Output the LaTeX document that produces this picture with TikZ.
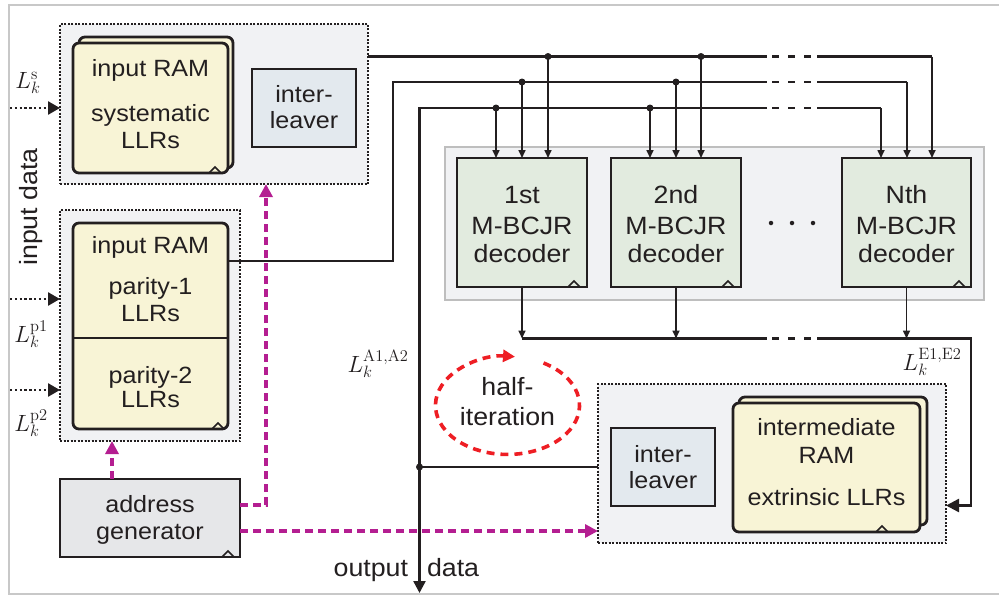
\RequirePackage{fix-cm}
\documentclass[tikz,border=0pt]{standalone}
\usepackage[no-math]{fontspec}
\setmainfont{Liberation Sans}[FakeStretch=1.07]
\usetikzlibrary{arrows.meta,calc}
\definecolor{ink}{RGB}{35,31,32}
\definecolor{grpfill}{RGB}{241,242,244}
\definecolor{ramfill}{RGB}{248,244,214}
\definecolor{ilvfill}{RGB}{227,233,238}
\definecolor{decfill}{RGB}{226,235,223}
\definecolor{agfill}{RGB}{230,231,233}
\definecolor{panelfill}{RGB}{241,242,244}
\definecolor{panelline}{RGB}{190,190,190}
\definecolor{magc}{RGB}{180,30,145}
\definecolor{redc}{RGB}{238,30,36}
\definecolor{framec}{RGB}{200,200,200}
\newcommand\notchmark[1]{\draw[notch] ($(#1)+(-6,0)$) -- ++(6,-6) -- ++(6,6);}
\tikzset{
  every node/.style={inner sep=0pt, outer sep=0pt},
  grp/.style={draw=ink, line width=1.2pt, dash pattern=on 2pt off 1.5pt, fill=grpfill},
  boxbase/.style={draw=ink, line width=2.8pt},
  ramcard/.style={boxbase, fill=ramfill, rounded corners=6pt},
  ilv/.style={boxbase, fill=ilvfill},
  decbox/.style={boxbase, fill=decfill},
  agbox/.style={boxbase, fill=agfill},
  panelbox/.style={draw=panelline, line width=2pt, fill=panelfill},
  btxt/.style={font=\fontsize{23.5}{28}\selectfont, text=ink, anchor=base},
  dtxt/.style={font=\fontsize{25}{30}\selectfont, text=ink, anchor=base},
  ftxt/.style={font=\fontsize{25}{30}\selectfont, text=ink},
  mlbl/.style={font=\fontsize{23.5}{28}\selectfont, text=ink},
  bus/.style={draw=ink, line width=2.4pt},
  busdash/.style={draw=ink, line width=2.4pt, dash pattern=on 7pt off 9pt},
  drop/.style={draw=ink, line width=1.6pt, -{Triangle[length=8pt,width=7pt]}},
  jdot/.style={circle, fill=ink, minimum size=7pt},
  edot/.style={circle, fill=ink, minimum size=4.5pt},
  inarr/.style={draw=ink, line width=2.6pt, dash pattern=on 2.4pt off 2.4pt, -{Triangle[length=12pt,width=13pt]}},
  mag/.style={draw=magc, line width=3.2pt, dash pattern=on 8pt off 5pt, -{Triangle[length=13pt,width=13pt]}},
  notch/.style={draw=ink, line width=1.5pt},
}
\begin{document}
\begin{tikzpicture}[x=1pt, y=-1pt]
\useasboundingbox (0,0) rectangle (999,595);
% page frame
\draw[framec, line width=1.5pt] (9,5) rectangle (1010,594);

% groups and panel
\node[grp, minimum width=308pt, minimum height=160pt] (G1) at (214,104) {};
\node[grp, minimum width=180pt, minimum height=231pt] (G2) at (150,325.5) {};
\node[grp, minimum width=348pt, minimum height=159pt] (G3) at (772,463.5) {};
\node[panelbox, minimum width=539pt, minimum height=153pt] (panel) at (714.5,223.5) {};

% systematic RAM (stacked)
\node[ramcard, minimum width=154pt, minimum height=131pt] (sysb) at (156,102.5) {};
\node[ramcard, minimum width=155pt, minimum height=130pt] (sysf) at (150.5,108) {};
\notchmark{215,173}
\node[btxt] (t1) at (150.5,76) {input RAM};
\node[btxt] (t2) at (150.5,121) {systematic};
\node[btxt] (t3) at (150.5,148) {LLRs};

% interleaver 1
\node[ilv, minimum width=104pt, minimum height=78pt] (ilv1) at (304,108) {};
\node[btxt] (t4) at (304,102) {inter-};
\node[btxt] (t5) at (304,128) {leaver};

% parity RAM
\node[ramcard, minimum width=155pt, minimum height=206pt] (par) at (150.5,326) {};
\draw[draw=ink, line width=2pt] ([yshift=-12pt]par.west) -- ([yshift=-12pt]par.east);
\notchmark{218,429}
\node[btxt] (t6) at (150.5,253) {input RAM};
\node[btxt] (t7) at (150.5,294) {parity-1};
\node[btxt] (t8) at (150.5,321) {LLRs};
\node[btxt] (t9) at (150.5,383) {parity-2};
\node[btxt] (t10) at (150.5,407) {LLRs};

% address generator
\node[agbox, minimum width=180pt, minimum height=78pt] (ag) at (150,518) {};
\notchmark{228,557}
\node[btxt] (t11) at (150,512) {address};
\node[btxt] (t12) at (150,539) {generator};

% decoders
\node[decbox, minimum width=130pt, minimum height=129pt] (d1) at (522,222.5) {};
\node[decbox, minimum width=130pt, minimum height=129pt] (d2) at (676,222.5) {};
\node[decbox, minimum width=129pt, minimum height=129pt] (dN) at (906.5,222.5) {};
\notchmark{574,287}
\notchmark{728,287}
\notchmark{959,287}
\node[dtxt] (t13) at (522,203) {1st};
\node[dtxt] (t14) at (522,234) {M-BCJR};
\node[dtxt] (t15) at (522,262) {decoder};
\node[dtxt] (t16) at (676,203) {2nd};
\node[dtxt] (t17) at (676,234) {M-BCJR};
\node[dtxt] (t18) at (676,262) {decoder};
\node[dtxt] (t19) at (906.5,203) {Nth};
\node[dtxt] (t20) at (906.5,234) {M-BCJR};
\node[dtxt] (t21) at (906.5,262) {decoder};
\node[edot] (e1) at (771,223) {};
\node[edot] (e2) at (792,223) {};
\node[edot] (e3) at (813,223) {};

% interleaver 2 and intermediate RAM
\node[ilv, minimum width=104pt, minimum height=78pt] (ilv2) at (663,467) {};
\node[btxt] (t22) at (663,462) {inter-};
\node[btxt] (t23) at (663,488) {leaver};
\node[ramcard, minimum width=188pt, minimum height=128pt] (imb) at (833,461) {};
\node[ramcard, minimum width=187pt, minimum height=129pt] (imf) at (826.5,467.5) {};
\notchmark{882,532}
\node[btxt] (t24) at (826.5,435) {intermediate};
\node[btxt] (t25) at (826.5,463) {RAM};
\node[btxt] (t26) at (826.5,505) {extrinsic LLRs};

% free labels
\node[ftxt, rotate=90] (indata) at (31,207) {input data};
\node[ftxt, anchor=base east] (outA) at (408,576) {output};
\node[ftxt, anchor=base west] (outB) at (427,576) {data};
\node[ftxt, anchor=base] (h1) at (507.5,395) {half-};
\node[ftxt, anchor=base] (h2) at (507.5,425) {iteration};
\node[mlbl] (Ls) at (28,83) {$L_k^{\mathrm{s}}$};
\node[mlbl] (Lp1) at (31,334) {$L_k^{\mathrm{p1}}$};
\node[mlbl] (Lp2) at (31,423) {$L_k^{\mathrm{p2}}$};
\node[mlbl] (LA) at (378,364) {$L_k^{\mathrm{A1,A2}}$};
\node[mlbl] (LE) at (932,362) {$L_k^{\mathrm{E1,E2}}$};

% half-iteration loop
\draw[redc, line width=3.6pt, dash pattern=on 8pt off 6pt, -{Triangle[length=12pt,width=12pt]}]
  (543.5,363) arc[start angle=60, end angle=-276, x radius=72pt, y radius=49pt];

% input arrows
\coordinate (in1) at (10,108);
\coordinate (in2) at (10,299);
\coordinate (in3) at (10,390);
\draw[inarr] (in1) -- (in1 -| G1.west);
\draw[inarr] (in2) -- (in2 -| G2.west);
\draw[inarr] (in3) -- (in3 -| G2.west);

% address generator control (magenta)
\coordinate (m0) at (112,0);
\coordinate (m1) at (266,505);
\coordinate (m2) at (300,531);
\draw[mag] (m0 |- ag.north) -- (m0 |- G2.south);
\draw[mag] (ag.east |- m1) -- (m1) -- (m1 |- G1.south);
\draw[mag] (ag.east |- m2) -- (m2 -| G3.west);

% bus 1 (systematic)
\coordinate (b1a) at (767,56.5);
\coordinate (b1b) at (817,56.5);
\coordinate (b1c) at (932,56.5);
\draw[bus] (G1.east |- b1a) -- (b1a);
\draw[busdash] (772,56.5) -- (811,56.5);
\draw[bus] (b1b) -- (b1c);
\draw[drop] (b1c) -- (b1c |- dN.north);
% bus 2 (parity)
\coordinate (p1) at (393,261);
\coordinate (c2) at (393,82);
\coordinate (b2a) at (767,82);
\coordinate (b2b) at (817,82);
\coordinate (b2c) at (907,82);
\draw[bus] (par.east |- p1) -- (p1) -- (c2) -- (b2a);
\draw[busdash] (772,82) -- (811,82);
\draw[bus] (b2b) -- (b2c);
\draw[drop] (b2c) -- (b2c |- dN.north);
% bus 3 (a-priori) and output
\coordinate (c3) at (419.5,108);
\coordinate (outp) at (419.5,593);
\coordinate (b3a) at (767,108);
\coordinate (b3b) at (817,108);
\coordinate (b3c) at (881,108);
\draw[bus, -{Triangle[length=12pt,width=12pt]}] (b3a) -- (c3) -- (outp);
\draw[busdash] (772,108) -- (811,108);
\draw[bus] (b3b) -- (b3c);
\draw[drop] (b3c) -- (b3c |- dN.north);

% junctions and drops
\node[jdot] (j11) at (548,56.5) {};
\node[jdot] (j12) at (701,56.5) {};
\node[jdot] (j21) at (522,82) {};
\node[jdot] (j22) at (676,82) {};
\node[jdot] (j31) at (496,108) {};
\node[jdot] (j32) at (650,108) {};
\draw[drop] (j11.center) -- (j11 |- d1.north);
\draw[drop] (j21.center) -- (j21 |- d1.north);
\draw[drop] (j31.center) -- (j31 |- d1.north);
\draw[drop] (j12.center) -- (j12 |- d2.north);
\draw[drop] (j22.center) -- (j22 |- d2.north);
\draw[drop] (j32.center) -- (j32 |- d2.north);

% interleaver output to bus 3
\node[jdot] (j5) at (419.5,467) {};
\draw[bus] (j5.center) -- (j5 -| G3.west);

% extrinsic collection
\coordinate (cA) at (767,338.5);
\coordinate (cB) at (817,338.5);
\coordinate (cC) at (971,338.5);
\coordinate (cD) at (971,505.5);
\draw[drop] (d1.south) -- (d1.south |- cA);
\draw[drop] (d2.south) -- (d2.south |- cA);
\draw[drop] (dN.south) -- (dN.south |- cA);
\draw[bus] (d1.south |- cA) -- (cA);
\draw[busdash] (772,338.5) -- (811,338.5);
\draw[bus, -{Triangle[length=13pt,width=13pt]}] (cB) -- (cC) -- (cD) -- (cD -| G3.east);
\end{tikzpicture}
\end{document}
